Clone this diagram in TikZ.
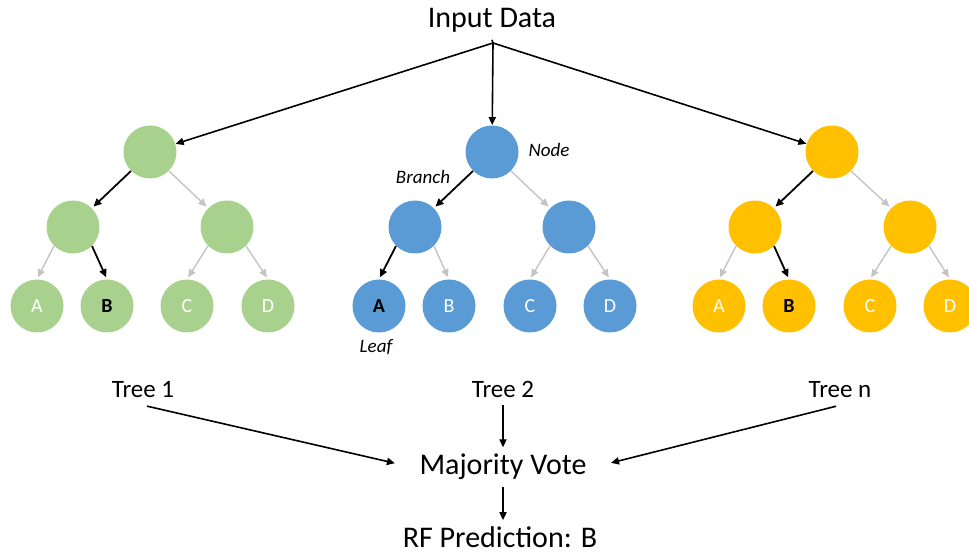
\documentclass[tikz,border=0pt]{standalone}
\usepackage{fontspec}
\setmainfont{Carlito}
\usetikzlibrary{arrows.meta}
\definecolor{treegreen}{HTML}{A9D18E}
\definecolor{treeblue}{HTML}{5B9BD5}
\definecolor{treegold}{HTML}{FFC000}
\definecolor{edgegray}{HTML}{C4C4C4}

\begin{document}
\begin{tikzpicture}[x=0.5pt,y=-0.5pt,
	>={Triangle[length=4pt,width=3.6pt]},
	vertex/.style={circle,minimum size=26.5pt,inner sep=0pt,
		text=white,font=\fontsize{10}{12}\selectfont},
	picked/.style={text=black,font=\fontsize{10}{12}\selectfont\bfseries},
	path/.style={->,line width=0.9pt,shorten >=1pt},
	side/.style={->,draw=edgegray,line width=0.7pt,shorten >=1pt},
	big/.style={font=\fontsize{15}{18}\selectfont},
	treelbl/.style={font=\fontsize{12.5}{15}\selectfont},
	note/.style={font=\fontsize{9.5}{11}\selectfont\itshape}]
\clip (0,0) rectangle (969,560);
% input
\node[big,anchor=base] (input) at (492,28) {Input Data};
\coordinate (fork) at (493,43);
% tree 1
\node[vertex,fill=treegreen] (root1)  at (150,152) {};
\node[vertex,fill=treegreen] (left1)  at (73,227)  {};
\node[vertex,fill=treegreen] (right1) at (227,227) {};
\node[vertex,fill=treegreen] (leafA1) at (37,306)  {A};
\node[vertex,fill=treegreen,picked] (leafB1) at (107,306) {B};
\node[vertex,fill=treegreen] (leafC1) at (187,306) {C};
\node[vertex,fill=treegreen] (leafD1) at (268,306) {D};
% tree 2
\node[vertex,fill=treeblue] (root2)  at (492,152) {};
\node[vertex,fill=treeblue] (left2)  at (415,227) {};
\node[vertex,fill=treeblue] (right2) at (569,227) {};
\node[vertex,fill=treeblue,picked] (leafA2) at (379,306) {A};
\node[vertex,fill=treeblue] (leafB2) at (449,306) {B};
\node[vertex,fill=treeblue] (leafC2) at (530,306) {C};
\node[vertex,fill=treeblue] (leafD2) at (610,306) {D};
% tree n
\node[vertex,fill=treegold] (root3)  at (832,152) {};
\node[vertex,fill=treegold] (left3)  at (755,227) {};
\node[vertex,fill=treegold] (right3) at (910,227) {};
\node[vertex,fill=treegold] (leafA3) at (719,306) {A};
\node[vertex,fill=treegold,picked] (leafB3) at (789,306) {B};
\node[vertex,fill=treegold] (leafC3) at (870,306) {C};
\node[vertex,fill=treegold] (leafD3) at (950,306) {D};
% labels in tree 2
\node[note] (nodelbl)   at (549,150) {Node};
\node[note] (branchlbl) at (423,177) {Branch};
\node[note] (leaflbl)   at (376,347) {Leaf};
% input arrows
\draw[->,line width=0.8pt] (input.south) -- (fork) -- (root1);
\draw[->,line width=0.8pt] (fork) -- (root2);
\draw[->,line width=0.8pt] (fork) -- (root3);
% tree 1 edges
\draw[path] (root1.south west) -- (left1.north east);
\draw[side] (root1.south east) -- (right1.north west);
\draw[side] (left1.south west) -- (leafA1.north);
\draw[path] (left1.south east) -- (leafB1.north);
\draw[side] (right1.south west) -- (leafC1.north);
\draw[side] (right1.south east) -- (leafD1.north);
% tree 2 edges
\draw[path] (root2.south west) -- (left2.north east);
\draw[side] (root2.south east) -- (right2.north west);
\draw[path] (left2.south west) -- (leafA2.north);
\draw[side] (left2.south east) -- (leafB2.north);
\draw[side] (right2.south west) -- (leafC2.north);
\draw[side] (right2.south east) -- (leafD2.north);
% tree n edges
\draw[path] (root3.south west) -- (left3.north east);
\draw[side] (root3.south east) -- (right3.north west);
\draw[side] (left3.south west) -- (leafA3.north);
\draw[path] (left3.south east) -- (leafB3.north);
\draw[side] (right3.south west) -- (leafC3.north);
\draw[side] (right3.south east) -- (leafD3.north);
% vote
\node[treelbl,anchor=base] (tree1) at (143,398) {Tree 1};
\node[treelbl,anchor=base] (tree2) at (503,398) {Tree 2};
\node[treelbl,anchor=base] (treen) at (840,398) {Tree n};
\node[big,anchor=base] (vote) at (503,475) {Majority Vote};
\node[big,anchor=base] (pred) at (500,548) {RF Prediction: B};
\draw[->,line width=0.8pt,shorten <=2pt,shorten >=9pt] (tree1.south) -- (vote.west);
\draw[->,line width=0.6pt] (tree2.south) -- (vote.north);
\draw[->,line width=0.8pt,shorten <=2pt,shorten >=9pt] (treen.south) -- (vote.east);
\draw[->,line width=0.6pt] (vote.south) -- (vote.south |- pred.north);
\end{tikzpicture}
\end{document}
